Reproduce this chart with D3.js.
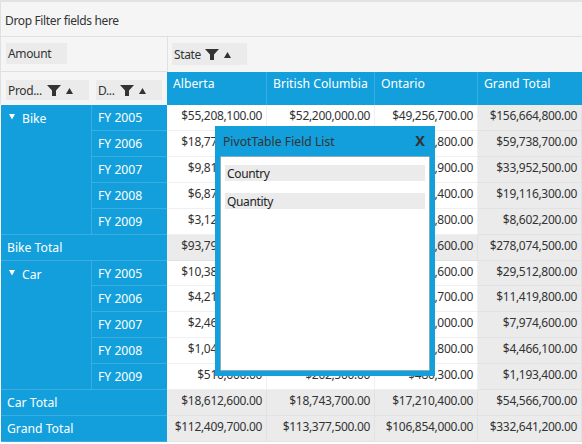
<!DOCTYPE html>
<html>
<head>
<meta charset="utf-8">
<script src="https://cdn.jsdelivr.net/npm/d3@7"></script>
<style>
  html, body { margin: 0; padding: 0; background: #fff; }
  svg { display: block; }
  text { font-family: "Noto Sans", sans-serif; font-size: 12.2px; }
  text.pane { font-size: 12px; letter-spacing: -0.35px; }
  text.value { font-size: 12px; letter-spacing: -0.32px; }
</style>
</head>
<body>
<div id="root"></div>
<script>
const states = ["Alberta", "British Columbia", "Ontario", "Grand Total"]
const rowKeys = ["Bike 2005", "Bike 2006", "Bike 2007", "Bike 2008", "Bike 2009", "Bike Total",
                 "Car 2005", "Car 2006", "Car 2007", "Car 2008", "Car 2009", "Car Total", "Grand Total"]
const years = ["FY 2005", "FY 2006", "FY 2007", "FY 2008", "FY 2009"]
const products = ["Bike", "Car"]
const fieldList = ["Country", "Quantity"]

const alberta = [55208100, 18774300, 9814500, 6873200, 3127000, 93797100,
                 10386000, 4216000, 2460000, 1040000, 510600, 18612600, 112409700]
const britishColumbia = [52200000, 20827600, 12195100, 6254700, 3156400, 94633800,
                 9916200, 3568100, 2910600, 2146300, 202500, 18743700, 113377500]
const ontario = [49256700, 20136800, 11942900, 5988400, 2318800, 89643600,
                 9210600, 3635700, 2604000, 1279800, 480300, 17210400, 106854000]
const grandTotal = [156664800, 59738700, 33952500, 19116300, 8602200, 278074500,
                 29512800, 11419800, 7974600, 4466100, 1193400, 54566700, 332641200]
const columns = [alberta, britishColumbia, ontario, grandTotal]

const width = 582
const height = 444
const blue = "#129fdb"
const blueLine = "#3aaee0"
const grey = "#ebebeb"
const paneBg = "#f5f5f5"
const lineCol = "#e0e0e0"
const textCol = "#333"

const money = d3.format("$,.2f")

const svg = d3.select("#root").append("svg")
    .attr("width", width)
    .attr("height", height)

// rows are all the same height, state columns are not
const yBand = d3.scaleBand().domain(rowKeys).range([105, 442])
const y = k => Math.round(yBand(k))
const yEnd = k => Math.round(yBand(k) + yBand.bandwidth())
const colLeft = d3.scaleOrdinal().domain(states).range([167, 267, 375, 478])
const colRight = d3.scaleOrdinal().domain(states).range([267, 375, 478, 582])

function rect(g, x0, y0, w, h, fill) {
    return g.append("rect").attr("x", x0).attr("y", y0).attr("width", w).attr("height", h).attr("fill", fill)
}
function label(g, x0, y0, s, fill, anchor) {
    return g.append("text").attr("x", x0).attr("y", y0).attr("fill", fill || textCol)
        .attr("text-anchor", anchor || "start").text(s)
}
function hline(g, x0, x1, y0, col) {
    rect(g, x0, y0, x1 - x0, 1, col)
}
function vline(g, x0, y0, y1, col) {
    rect(g, x0, y0, 1, y1 - y0, col)
}

// funnel + sort arrow used on the field buttons
function filterIcons(g, x0, y0) {
    g.append("path").attr("fill", "#333")
        .attr("d", `M${x0} ${y0}h14l-5 5.5v5.5h-4v-5.5z`)
    g.append("path").attr("fill", "#333")
        .attr("d", `M${x0 + 19} ${y0 + 9}l3.5 -6l3.5 6z`)
}

function fieldButton(g, x0, y0, w, h, s, icons) {
    rect(g, x0, y0, w, h, grey)
    label(g, x0 + 2, y0 + h / 2 + 4.5, s).attr("class", "pane")
    if (icons) filterIcons(g, x0 + w - 42, y0 + h / 2 - 5)
}

// top panes
const panes = svg.append("g")
rect(panes, 0, 0, width, 105, paneBg)
rect(panes, 0, 0, width, 2, "#e2e2e2")
hline(panes, 0, width, 36, lineCol)
hline(panes, 0, 167, 71, lineCol)
vline(panes, 167, 37, 72, lineCol)
vline(panes, 0, 2, 105, lineCol)
label(panes, 5, 24.5, "Drop Filter fields here").attr("class", "pane")
fieldButton(panes, 6, 43, 61, 21, "Amount")
fieldButton(panes, 172, 43, 75, 22, "State", true)
fieldButton(panes, 6, 80, 83, 20, "Prod...", true)
fieldButton(panes, 96, 80, 66, 20, "D...", true)

// column headers
const head = svg.append("g")
rect(head, 167, 72, width - 167, 33, blue)
states.forEach(s => {
    label(head, colLeft(s) + 6, 88, s, "#fff")
    if (s != states[0]) vline(head, colLeft(s) - 1, 72, 105, blueLine)
})

// row headers
const rowHead = svg.append("g")
rect(rowHead, 1, 105, 166, 337, blue)
rowKeys.forEach((k, i) => {
    const isYear = i < 5 || (i > 5 && i < 11)
    if (isYear) {
        label(rowHead, 98, y(k) + 17, years[i > 5 ? i - 6 : i], "#fff")
    } else {
        label(rowHead, 7, y(k) + 17, k, "#fff")
    }
    const x0 = (isYear && i != 4 && i != 10) ? 92 : 1
    hline(rowHead, x0, 167, yEnd(k) - 1, blueLine)
})
vline(rowHead, 91, y(rowKeys[0]), y("Bike Total") - 1, blueLine)
vline(rowHead, 91, y("Car 2005"), y("Car Total") - 1, blueLine)
products.forEach(p => {
    const y0 = y(p + " 2005")
    rowHead.append("path").attr("fill", "#fff").attr("d", `M9 ${y0 + 9}h6l-3 5.5z`)
    label(rowHead, 22, y0 + 18, p, "#fff")
})

// value cells
const cells = svg.append("g")
states.forEach((s, c) => {
    rowKeys.forEach((k, i) => {
        const isTotal = c == 3 || i == 5 || i == 11 || i == 12
        rect(cells, colLeft(s), y(k), colRight(s) - colLeft(s), yEnd(k) - y(k), isTotal ? grey : "#fff")
        hline(cells, colLeft(s), colRight(s), yEnd(k) - 1, isTotal ? "#e2e2e2" : "#f0f0f0")
        vline(cells, colRight(s) - 1, y(k), yEnd(k), isTotal ? "#e2e2e2" : "#f0f0f0")
        label(cells, colRight(s) - 5, y(k) + 15, money(columns[c][i]), textCol, "end").attr("class", "value")
    })
})

// floating field list
const dialog = svg.append("g")
rect(dialog, 215, 126, 220, 250, blue)
label(dialog, 223, 146, "PivotTable Field List")
dialog.append("text").attr("x", 420).attr("y", 146).attr("text-anchor", "middle")
    .attr("fill", "#333").style("font-size", "14.5px").style("font-weight", "700").text("X")
rect(dialog, 220.5, 156.5, 209, 214, "#fff")
    .attr("stroke", "#888").attr("stroke-dasharray", "1,1")
fieldList.forEach((f, i) => {
    rect(dialog, 225, 165 + i * 28, 200, 16, grey)
    label(dialog, 227, 177.5 + i * 28, f, "#222").attr("class", "pane")
})
</script>
</body>
</html>
